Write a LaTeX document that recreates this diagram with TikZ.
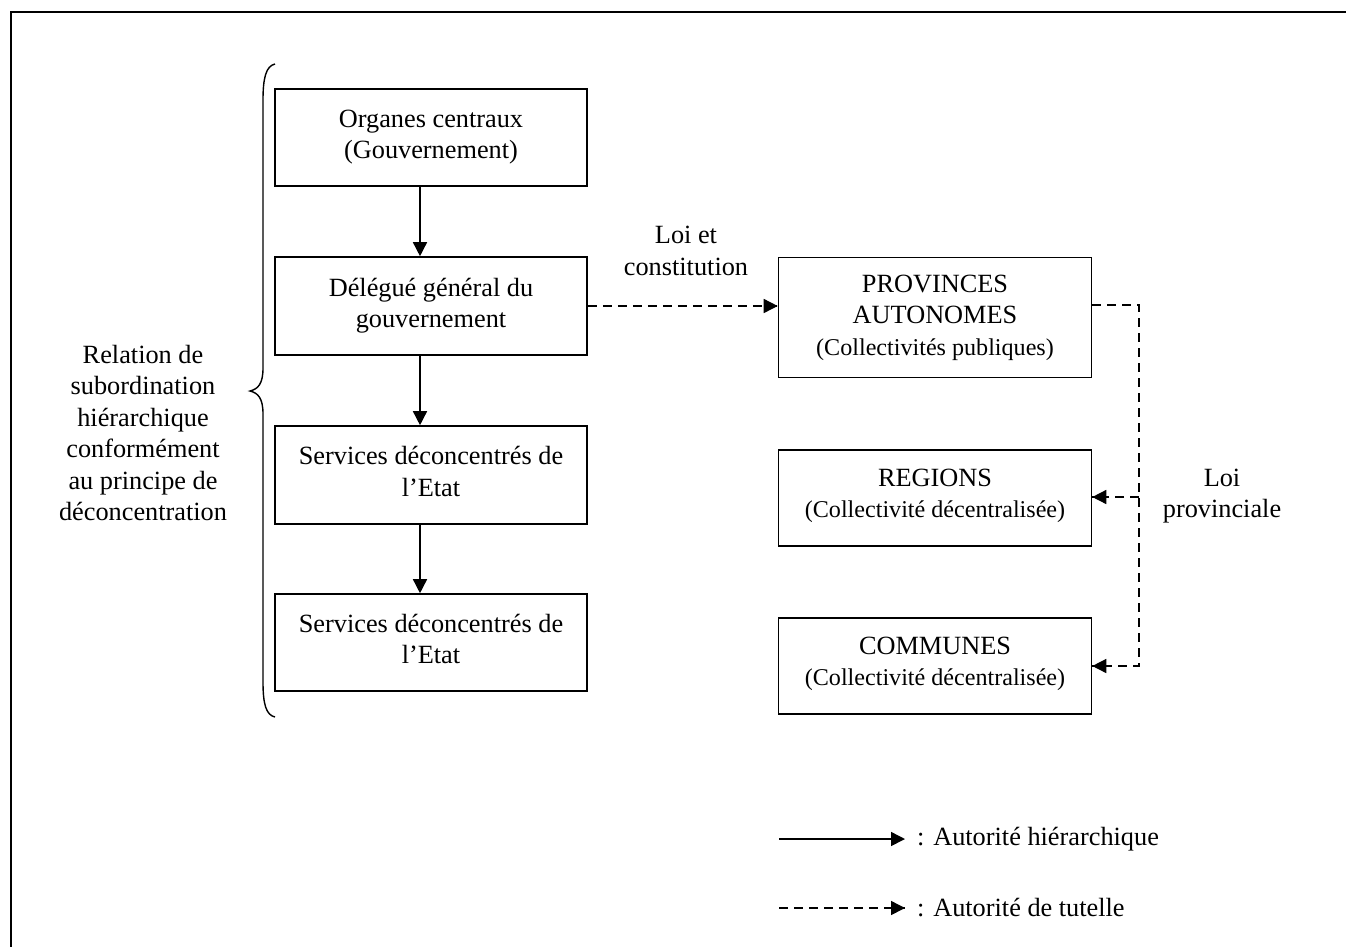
\documentclass[tikz,border=0pt]{standalone}
\usepackage{fontspec}
\setmainfont{Liberation Serif}
\usetikzlibrary{arrows.meta}
\newcommand{\bigtxt}{\fontsize{26.3}{31.5}\selectfont}
\newcommand{\smalltxt}{\fontsize{24.1}{30}\selectfont}
\tikzset{
  box/.style={draw, line width=1.6pt, minimum width=312pt, align=center, inner sep=0pt, font=\bigtxt},
  lbl/.style={align=center, inner sep=0pt, font=\bigtxt},
  tip/.style={-{Triangle[length=14pt,width=14pt]}},
  solidarrow/.style={line width=1.5pt, tip},
  dasharrow/.style={line width=1.5pt, dash pattern=on 9pt off 6pt},
}
\begin{document}
\begin{tikzpicture}[x=1pt,y=-1pt]
\useasboundingbox (0,0) rectangle (1346,946);
\clip (0,0) rectangle (1346,946);
\draw[line width=2.4pt] (11,12) rectangle (1420,1020);

% left column
\node[box, minimum height=97pt] (b1) at (431,137.5) {Organes centraux\\(Gouvernement)\\[-25pt]};
\node[box, minimum height=98pt] (b2) at (431,306) {Délégué général du\\gouvernement\\[-25pt]};
\node[box, minimum height=98pt] (b3) at (431,475) {Services déconcentrés de\\l’Etat\\[-24pt]};
\node[box, minimum height=97pt] (b4) at (431,642.5) {Services déconcentrés de\\l’Etat\\[-24pt]};

% right column
\node[box, minimum width=313pt, minimum height=120pt] (pv) at (935,317.5) {PROVINCES\\AUTONOMES\\{\smalltxt (Collectivités publiques)}};
\node[box, minimum width=313pt, minimum height=96pt] (rg) at (935,498) {REGIONS\\{\smalltxt (Collectivité décentralisée)}\\[-22pt]};
\node[box, minimum width=313pt, minimum height=96pt] (cm) at (935,666) {COMMUNES\\{\smalltxt (Collectivité décentralisée)}\\[-22pt]};

% labels
\node[lbl] (lc) at (686,251) {Loi et\\constitution};
\node[lbl] (lp) at (1222,496) {Loi\\provinciale};
\node[lbl] (rel) at (143,433) {Relation de\\subordination\\hiérarchique\\conformément\\au principe de\\déconcentration};

% hierarchical arrows
\draw[solidarrow] ([xshift=-11pt]b1.south) -- ([xshift=-11pt]b2.north);
\draw[solidarrow] ([xshift=-11pt]b2.south) -- ([xshift=-11pt]b3.north);
\draw[solidarrow] ([xshift=-11pt]b3.south) -- ([xshift=-11pt]b4.north);

% tutelle arrows
\draw[dasharrow] (b2.east) -- (b2.east -| pv.west);
\draw[line width=1.5pt, tip] ([xshift=-2pt]b2.east -| pv.west) -- (b2.east -| pv.west);
\coordinate (jt) at (1139,305);
\coordinate (jr) at (1139,497);
\coordinate (jc) at (1139,666);
\draw[dasharrow] (jt -| pv.east) -- (jt) -- (jc) -- (jc -| cm.east);
\draw[dasharrow] (jr) -- (jr -| rg.east);
\draw[line width=1.5pt, tip] ([xshift=2pt]jr -| rg.east) -- (jr -| rg.east);
\draw[line width=1.5pt, tip] ([xshift=2pt]jc -| cm.east) -- (jc -| cm.east);

% brace
\draw[line width=1.4pt] (275,64) .. controls (266,66) and (263,78) .. (263,100)
  -- (263,368) .. controls (263,384) and (258,389) .. (250,391)
  .. controls (258,393) and (263,398) .. (263,414)
  -- (263,682) .. controls (263,704) and (266,715) .. (275,717);

% legend
\coordinate (la1) at (779,839);
\coordinate (lb1) at (905,839);
\node[lbl, anchor=west] (lt1) at (917,839) {: Autorité hiérarchique};
\draw[solidarrow] (la1) -- (lb1);
\coordinate (la2) at (779,908);
\coordinate (lb2) at (905,908);
\node[lbl, anchor=west] (lt2) at (917,908) {: Autorité de tutelle};
\draw[dasharrow] (la2) -- (lb2);
\draw[line width=1.5pt, tip] ([xshift=-2pt]lb2) -- (lb2);
\end{tikzpicture}
\end{document}
